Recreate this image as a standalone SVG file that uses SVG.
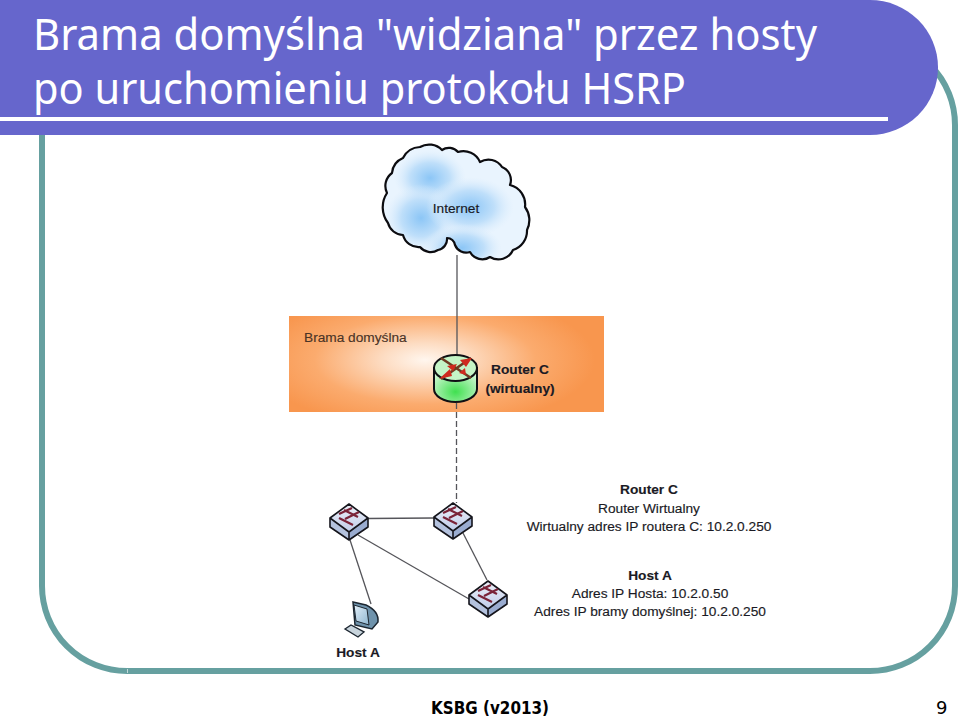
<svg xmlns="http://www.w3.org/2000/svg" xmlns:xlink="http://www.w3.org/1999/xlink" width="960" height="719" viewBox="0 0 960 719">
  <style>
    .title { font-family: "Noto Sans", "DejaVu Sans", sans-serif; font-size: 44px; fill: #ffffff; }
    .lab { font-family: "Liberation Sans", Arial, sans-serif; font-size: 13.7px; fill: #1a1a24; stroke: #1a1a24; stroke-width: 0.15; }
    .b { font-weight: bold; }
    .mid { text-anchor: middle; }
    .foot { font-family: "DejaVu Sans", sans-serif; font-size: 18px; fill: #000; }
    .link { stroke: #55555a; stroke-width: 1.3; fill: none; }
  </style>
  <defs>
    <radialGradient id="glow" gradientUnits="userSpaceOnUse" cx="425" cy="360" r="170" gradientTransform="translate(0 216) scale(1 0.4)">
      <stop offset="0" stop-color="#fff6ee"/>
      <stop offset="0.25" stop-color="#fddcc2"/>
      <stop offset="0.65" stop-color="#fbab6e"/>
      <stop offset="1" stop-color="#f8964e"/>
    </radialGradient>
    <radialGradient id="puff">
      <stop offset="0" stop-color="#8cc6f6"/>
      <stop offset="0.55" stop-color="#bfdffa"/>
      <stop offset="1" stop-color="#dcedfc" stop-opacity="0"/>
    </radialGradient>
    <radialGradient id="dome" cx="0.5" cy="0.7" r="0.65">
      <stop offset="0" stop-color="#40e050"/>
      <stop offset="1" stop-color="#cdf6d0"/>
    </radialGradient>
    <linearGradient id="swTop" x1="0" y1="0" x2="0" y2="1">
      <stop offset="0" stop-color="#eef0f8"/>
      <stop offset="1" stop-color="#c0cdea"/>
    </linearGradient>
    <linearGradient id="screen" x1="0" y1="0" x2="1" y2="1">
      <stop offset="0" stop-color="#e2f0fa"/>
      <stop offset="1" stop-color="#8fb6d0"/>
    </linearGradient>
    <path id="cloudShape" d="M392 173 A18 18 0 0 1 403 158 A20 20 0 0 1 420 147 A18 18 0 0 1 442 150 A12 12 0 0 1 458 152 A18 18 0 0 1 480 162 A16 16 0 0 1 502 167 A14 14 0 0 1 510 185 A20 20 0 0 1 525 207 A22 22 0 0 1 527 230 A20 20 0 0 1 513 250 A16 16 0 0 1 490 257 A14 14 0 0 1 470 252 A12 12 0 0 1 455 245 A8 8 0 0 0 447 238 A11 11 0 0 1 438 250 A14 14 0 0 1 420 247 A16 16 0 0 1 403 235 A16 16 0 0 1 388 223 A26 26 0 0 1 387 193 A16 16 0 0 1 392 173 Z"/>
    <clipPath id="cloudClip"><use xlink:href="#cloudShape"/></clipPath>
    <g id="switch">
      <path d="M-19 -1 L0 13 L0 21 L-19 8 Z" fill="#b4c2de"/>
      <path d="M19 -1 L0 13 L0 21 L19 8 Z" fill="#9aacd0"/>
      <path d="M0 -15 L19 -1 L0 13 L-19 -1 Z" fill="url(#swTop)"/>
      <path d="M0 -15 L19 -1 L19 8 L0 21 L-19 8 L-19 -1 Z M-19 -1 L0 13 L19 -1 M0 13 L0 21" fill="none" stroke="#15151c" stroke-width="1.6" stroke-linejoin="round"/>
      <path d="M-10 -5 L3 -11 M-4 0 L10 -7 M-5 -9 L9 -2 M-10 -1 L4 6" fill="none" stroke="#7a2338" stroke-width="2.200"/>
    </g>
  </defs>

  <!-- slide frame -->
  <rect id="frame" x="42" y="40" width="913" height="631" rx="85" ry="85" fill="#ffffff" stroke="#66a0a0" stroke-width="6"/>
  <rect x="127" y="669" width="1" height="4" fill="#ffffff" opacity="0.6"/>

  <!-- title band -->
  <g id="titleBand">
    <path d="M0 0 H870 A68 67.500 0 0 1 870 135 H0 Z" fill="#6666cc"/>
    <rect x="0" y="117" width="888" height="4" fill="#ffffff"/>
    <text class="title" x="33" y="50" textLength="784" lengthAdjust="spacingAndGlyphs">Brama domyślna "widziana" przez hosty</text>
    <text class="title" x="33" y="104" textLength="653" lengthAdjust="spacingAndGlyphs">po uruchomieniu protokołu HSRP</text>
  </g>

  <!-- connectors -->
  <g id="connectors">
    <path class="link" d="M457 255 V356"/>
    <path class="link" d="M456.500 403 V503" stroke-dasharray="6 3"/>
    <path class="link" d="M368 518.500 L434 518"/>
    <path class="link" d="M463 533 L487 580"/>
    <path class="link" d="M358 535 L469 599"/>
    <path class="link" d="M350 540 L371 604"/>
  </g>

  <g id="internet">
    <use xlink:href="#cloudShape" fill="#e9f4fe"/>
    <g clip-path="url(#cloudClip)">
      <ellipse cx="430" cy="178" rx="36" ry="28" fill="url(#puff)"/>
      <ellipse cx="421" cy="218" rx="36" ry="34" fill="url(#puff)"/>
      <ellipse cx="470" cy="207" rx="44" ry="30" fill="url(#puff)"/>
      <ellipse cx="462" cy="248" rx="40" ry="24" fill="url(#puff)"/>
    </g>
    <use xlink:href="#cloudShape" fill="none" stroke="#0c0c10" stroke-width="2.200" stroke-linejoin="round"/>
    <text class="lab" x="456" y="213" text-anchor="middle">Internet</text>
  </g>

  <g id="gateway">
    <rect x="289" y="316" width="315" height="96" fill="url(#glow)"/>
    <path class="link" d="M457 316 V356"/>
    <path class="link" d="M456.500 403 V412" stroke-dasharray="6 3"/>
    <text class="lab" x="304" y="342" style="fill:#4a3326;stroke:#4a3326">Brama domyślna</text>
  </g>

  <g id="routerC">
    <path d="M434 368 V389 A21.500 13 0 0 0 477 389 V368 Z" fill="url(#dome)" stroke="#101014" stroke-width="2"/>
    <ellipse cx="455.500" cy="368" rx="21.500" ry="13" fill="#c4f4c6" stroke="#101014" stroke-width="2"/>
    <path d="M441 358 L471 378 M441 379 L471 358" stroke="#6e3b22" stroke-width="2.600"/>
    <path d="M439 379 L450 369 L452 376 Z M472 358 L460 360 L466 367 Z M447 366 L457 364 L453 371 Z M459 373 L465 368 L466 375 Z" fill="#cf2a1e"/>
    <text class="lab b mid" x="520" y="374">Router C</text>
    <text class="lab b mid" x="520" y="393">(wirtualny)</text>
  </g>

  <g id="switch1"><use xlink:href="#switch" x="349" y="519"/></g>
  <g id="switch2"><use xlink:href="#switch" x="453" y="518"/></g>
  <g id="switch3"><use xlink:href="#switch" x="488" y="596"/></g>

  <g id="hostA">
    <path d="M353 602 L366 605 Q379 611 378 622 L372 629 L355 625 Z" fill="#6f93ac" stroke="#1c2630" stroke-width="1.500"/>
    <path d="M354 605 L367 609 L369 625 L356 621 Z" fill="url(#screen)" stroke="#1c2630" stroke-width="1"/>
    <path d="M345 629 L351 625 L364 632 L358 637 Z" fill="#c8d4dc" stroke="#1c2630" stroke-width="1.400"/>
    <text class="lab b mid" x="358" y="657">Host A</text>
  </g>

  <g id="routerInfo">
    <text class="lab b mid" x="649" y="494">Router C</text>
    <text class="lab mid" x="649" y="513">Router Wirtualny</text>
    <text class="lab mid" x="649" y="531">Wirtualny adres IP routera C: 10.2.0.250</text>
  </g>
  <g id="hostInfo">
    <text class="lab b mid" x="650" y="580">Host A</text>
    <text class="lab mid" x="650" y="598">Adres IP Hosta: 10.2.0.50</text>
    <text class="lab mid" x="650" y="616">Adres IP bramy domyślnej: 10.2.0.250</text>
  </g>

  <g id="footer">
    <text class="foot b" x="490" y="714" text-anchor="middle" textLength="118" lengthAdjust="spacingAndGlyphs">KSBG (v2013)</text>
    <text class="foot" x="936" y="714">9</text>
  </g>
</svg>
